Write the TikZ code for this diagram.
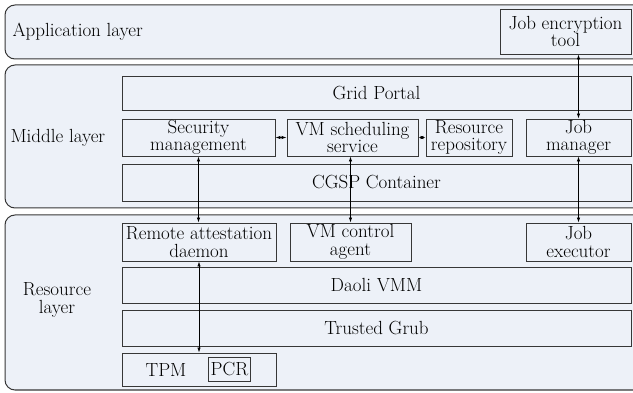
\documentclass[tikz,border=0pt]{standalone}
\usetikzlibrary{arrows.meta}
\definecolor{layerfill}{RGB}{237,241,248}
\definecolor{edgegray}{RGB}{55,55,55}

\begin{document}
\begin{tikzpicture}[x=1pt, y=-1pt,
        every node/.style = {font=\fontsize{19}{17.5}\selectfont},
        layer/.style = {draw=edgegray, fill=layerfill, rounded corners=10pt, line width=1pt},
        unit/.style = {draw=edgegray, fill=layerfill, inner sep=0pt, align=center, line width=0.9pt},
        link/.style = {{Latex[length=5pt,width=3.5pt]}-{Latex[length=5pt,width=3.5pt]}, line width=0.8pt}]
        \useasboundingbox (0,0) rectangle (633,393);
        % layers
        \draw [layer] (5,5) rectangle (700,59);
        \draw [layer] (5,65) rectangle (700,208);
        \draw [layer] (5,215) rectangle (700,390);
        \node [anchor=west] (applbl) at (9,32) {Application layer};
        \node [anchor=west] (midlbl) at (7,138) {Middle layer};
        \node [align=center] (reslbl) at (57,300) {Resource\\layer};
        % application layer
        \node [unit, minimum width=131, minimum height=45] (enc) at (565.5,31.5) {Job encryption\\tool};
        % middle layer
        \node [unit, minimum width=509, minimum height=34] (portal) at (376.5,93) {Grid Portal};
        \node [unit, minimum width=153, minimum height=37] (sec) at (198.5,137.5) {Security\\management};
        \node [unit, minimum width=131, minimum height=37] (vmsched) at (352.5,137.5) {VM scheduling\\service};
        \node [unit, minimum width=86, minimum height=37] (repo) at (469,137.5) {Resource\\repository};
        \node [unit, minimum width=105, minimum height=37] (jobmgr) at (578.5,137.5) {Job\\manager};
        \node [unit, minimum width=509, minimum height=37] (cgsp) at (376.5,182.5) {CGSP Container};
        % resource layer
        \node [unit, minimum width=154, minimum height=38] (rad) at (199,242) {Remote attestation\\daemon};
        \node [unit, minimum width=121, minimum height=38] (vmagent) at (350.5,242) {VM control\\agent};
        \node [unit, minimum width=105, minimum height=38] (jobexec) at (578.5,242) {Job\\executor};
        \node [unit, minimum width=509, minimum height=36] (daoli) at (376.5,285) {Daoli VMM};
        \node [unit, minimum width=509, minimum height=36] (grub) at (376.5,328) {Trusted Grub};
        \node [unit, minimum width=154, minimum height=33] (tpm) at (199,369.5) {};
        \node (tpmlbl) at (166,370) {TPM};
        \node [unit, minimum width=42, minimum height=24] (pcr) at (229.5,369) {PCR};
        % connectors
        \draw [link] (jobmgr.north) -- (jobmgr.north |- enc.south);
        \draw [link] (jobmgr.south) -- (jobexec.north);
        \draw [link] (sec.south) -- (sec.south |- rad.north);
        \draw [link] (vmagent.north) -- (vmagent.north |- vmsched.south);
        \draw [link] (rad.south) -- (rad.south |- tpm.north);
        \draw [link] (sec.east) -- (vmsched.west);
        \draw [link] (vmsched.east) -- (repo.west);
\end{tikzpicture}
\end{document}
